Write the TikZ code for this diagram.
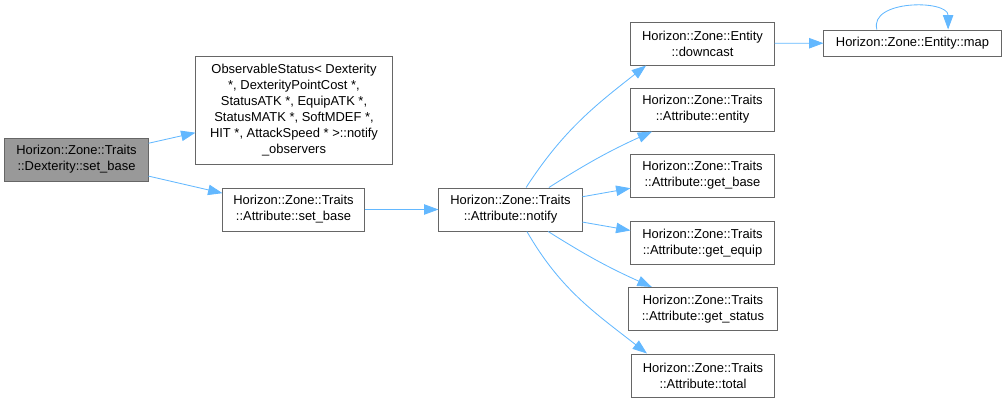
\documentclass[tikz,border=0pt]{standalone}
\usepackage{fontspec}
\setmainfont{Liberation Sans}
\usetikzlibrary{arrows.meta}
\definecolor{edgeblue}{RGB}{99,184,255}
\definecolor{boxgray}{RGB}{102,102,102}
\definecolor{mainfill}{RGB}{153,153,153}

\begin{document}
\begin{tikzpicture}[x=0.025cm,y=0.025cm,
  fn/.style={draw=boxgray,line width=0.7pt,fill=white,align=center,inner sep=0pt,
    font=\fontsize{9.2}{11.4}\selectfont,minimum width=3.575cm,minimum height=1.075cm},
  call/.style={draw=edgeblue,line width=0.6pt,-{Triangle[length=3.6mm,width=2.6mm]}}]
  \useasboundingbox (0,0) rectangle (1006,403);
  % caller and first level
  \node[fn,fill=mainfill] (dex) at (76.5,243.5) {Horizon::Zone::Traits\\::Dexterity::set\_base};
  \node[fn,minimum width=4.9cm,minimum height=2.675cm] (obs) at (294,292.5)
    {ObservableStatus< Dexterity\\ *, DexterityPointCost *,\\StatusATK *, EquipATK *,\\StatusMATK *, SoftMDEF *,\\HIT *, AttackSpeed * >::notify\\\_observers};
  \node[fn,minimum width=3.525cm] (aset) at (293.5,193.5) {Horizon::Zone::Traits\\::Attribute::set\_base};
  \node[fn] (notify) at (510.5,193.5) {Horizon::Zone::Traits\\::Attribute::notify};
  % callees of notify
  \node[fn] (downcast) at (702.5,359.5) {Horizon::Zone::Entity\\::downcast};
  \node[fn,minimum width=4.425cm,minimum height=0.65cm] (map) at (912.5,360) {Horizon::Zone::Entity::map};
  \node[fn] (entity) at (702.5,293.5) {Horizon::Zone::Traits\\::Attribute::entity};
  \node[fn] (getbase) at (702.5,227.5) {Horizon::Zone::Traits\\::Attribute::get\_base};
  \node[fn] (getequip) at (702.5,160) {Horizon::Zone::Traits\\::Attribute::get\_equip};
  \node[fn,minimum width=3.7cm] (getstatus) at (703,94) {Horizon::Zone::Traits\\::Attribute::get\_status};
  \node[fn] (total) at (703,27.5) {Horizon::Zone::Traits\\::Attribute::total};
  % calls
  \draw[call] (dex) -- (obs);
  \draw[call] (dex) -- (aset);
  \draw[call] (aset) -- (notify);
  \draw[call] ([xshift=0.39cm]notify.north) to[out=57,in=218] ([xshift=-1.41cm]downcast.south);
  \draw[call] ([xshift=0.96cm]notify.north) to[bend left=4] ([xshift=-1.26cm]entity.south);
  \draw[call] (notify) -- (getbase);
  \draw[call] (notify) -- (getequip);
  \draw[call] ([xshift=0.94cm]notify.south) to[bend right=4] ([xshift=-1.28cm]getstatus.north);
  \draw[call] ([xshift=0.41cm]notify.south) to[out=-60,in=142] ([xshift=-1.4cm]total.north);
  \draw[call] (downcast) -- (map);
  \draw[call] ([xshift=-0.89cm]map.north) .. controls +(-8,30) and +(0,30) .. ([xshift=0.89cm]map.north);
\end{tikzpicture}
\end{document}
